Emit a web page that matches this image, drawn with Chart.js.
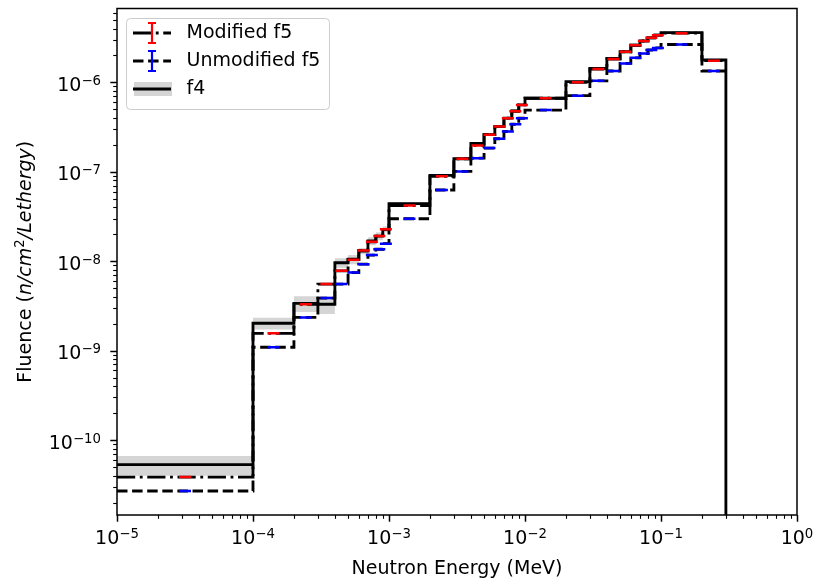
<!DOCTYPE html>
<html>
<head>
<meta charset="utf-8">
<script src="https://cdn.jsdelivr.net/npm/chart.js@4.4.0/dist/chart.umd.min.js"></script>
<style>
  html, body { margin: 0; padding: 0; background: #fff; }
  #wrap { width: 815px; height: 582px; }
</style>
</head>
<body>
<div id="wrap"><canvas id="myChart" width="815" height="582"></canvas></div>
<script>
// bin edges (MeV)
const edges = [1e-5, 1e-4, 2e-4, 3e-4, 4e-4, 5e-4, 6e-4, 7e-4, 8e-4, 9e-4,
    1e-3, 2e-3, 3e-3, 4e-3, 5e-3, 6e-3, 7e-3, 8e-3, 9e-3,
    1e-2, 2e-2, 3e-2, 4e-2, 5e-2, 6e-2, 7e-2, 8e-2, 9e-2,
    1e-1, 2e-1, 3e-1];

// fluence per bin (n/cm2/lethargy)
const f4 = [5.3e-11, 2.02e-9, 3.37e-9, 3.3e-9, 9.6e-9, 1.05e-8, 1.30e-8, 1.68e-8, 1.91e-8, 2.27e-8,
    4.4e-8, 9.1e-8, 1.40e-7, 2.07e-7, 2.6e-7, 3.2e-7, 3.98e-7, 4.8e-7, 5.6e-7,
    6.64e-7, 1.02e-6, 1.43e-6, 1.85e-6, 2.2e-6, 2.6e-6, 2.9e-6, 3.15e-6, 3.37e-6,
    3.6e-6, 1.78e-6];
// relative error of f4 (gray band)
const f4Err = [0.25, 0.15, 0.2, 0.22, 0.12, 0.12, 0.08, 0.1, 0.1, 0.08,
    0.04, 0.03, 0.03, 0.03, 0.03, 0.03, 0.03, 0.03, 0.03,
    0.03, 0.03, 0.03, 0.03, 0.03, 0.03, 0.03, 0.03, 0.03,
    0.03, 0.03];
const modF5 = [3.85e-11, 1.56e-9, 3.3e-9, 5.55e-9, 7.8e-9, 1.04e-8, 1.32e-8, 1.65e-8, 1.91e-8, 2.27e-8,
    4.2e-8, 8.9e-8, 1.40e-7, 1.97e-7, 2.6e-7, 3.2e-7, 3.98e-7, 4.75e-7, 5.6e-7,
    6.64e-7, 1.0e-6, 1.41e-6, 1.82e-6, 2.2e-6, 2.6e-6, 2.9e-6, 3.15e-6, 3.37e-6,
    3.55e-6, 1.75e-6];
const unmodF5 = [2.69e-11, 1.09e-9, 2.35e-9, 3.87e-9, 5.55e-9, 7.46e-9, 9.27e-9, 1.17e-8, 1.36e-8, 1.57e-8,
    2.98e-8, 6.26e-8, 1.01e-7, 1.42e-7, 1.84e-7, 2.34e-7, 2.82e-7, 3.4e-7, 3.97e-7,
    4.9e-7, 7.1e-7, 1.04e-6, 1.34e-6, 1.63e-6, 1.88e-6, 2.1e-6, 2.3e-6, 2.43e-6,
    2.65e-6, 1.34e-6];

const xTicks = [1e-5, 1e-4, 1e-3, 1e-2, 1e-1, 1];
const xTickExp = ['\u22125', '\u22124', '\u22123', '\u22122', '\u22121', '0'];
const yTicks = [1e-10, 1e-9, 1e-8, 1e-7, 1e-6];
const yTickExp = ['\u221210', '\u22129', '\u22128', '\u22127', '\u22126'];

const FONT = '"DejaVu Sans"';
const LW = 2.85;

// steps-post: valeur i de edges[i] a edges[i+1]
function stepData(vals, drop) {
    const n = vals.length;
    const pts = vals.map((v, i) => ({ x: edges[i], y: v }));
    pts.push({ x: edges[n], y: vals[n - 1] });
    if (drop) pts.push({ x: edges[n], y: 1e-14 });
    return pts;
}
const centers = f4.map((_, i) => Math.sqrt(edges[i] * edges[i + 1]));
const marks = vals => vals.map((v, i) => ({ x: centers[i], y: v }));

function powLabel(ctx, exp, px, py, align) {
    ctx.font = '19px ' + FONT;
    const wb = ctx.measureText('10').width;
    ctx.font = '13.3px ' + FONT;
    const we = ctx.measureText(exp).width;
    const x0 = align === 'center' ? px - (wb + we) / 2 : px - (wb + we);
    ctx.textAlign = 'left';
    ctx.textBaseline = 'alphabetic';
    ctx.font = '19px ' + FONT;
    ctx.fillText('10', x0, py);
    ctx.font = '13.3px ' + FONT;
    ctx.fillText(exp, x0 + wb, py - 6);
}

const decor = {
    id: 'decor',
    afterDraw(chart) {
        const { ctx, chartArea: a, scales: { x, y } } = chart;
        ctx.save();
        ctx.fillStyle = '#000';
        ctx.strokeStyle = '#000';

        // ticks (majeurs + mineurs)
        const tick = (x1, y1, x2, y2, w) => {
            ctx.lineWidth = w;
            ctx.beginPath(); ctx.moveTo(x1, y1); ctx.lineTo(x2, y2); ctx.stroke();
        };
        for (let d = -5; d <= 0; d++) {
            for (let m = 1; m <= 9; m++) {
                const v = m * Math.pow(10, d);
                if (v > x.max * 1.0001) break;
                const px = Math.round(x.getPixelForValue(v)) + 0.5;
                const major = m === 1;
                tick(px, a.bottom, px, a.bottom + (major ? 6.7 : 3.8), major ? 1.5 : 1.1);
            }
        }
        for (let d = -11; d <= -6; d++) {
            for (let m = 1; m <= 9; m++) {
                const v = m * Math.pow(10, d);
                if (v < y.min || v > y.max) continue;
                const py = Math.round(y.getPixelForValue(v)) + 0.5;
                const major = m === 1;
                tick(a.left, py, a.left - (major ? 6.7 : 3.8), py, major ? 1.5 : 1.1);
            }
        }

        // cadre
        ctx.lineWidth = 1.5;
        ctx.strokeRect(a.left, a.top, a.right - a.left, a.bottom - a.top);

        // labels des ticks
        xTicks.forEach((v, i) => powLabel(ctx, xTickExp[i], x.getPixelForValue(v), a.bottom + 29, 'center'));
        yTicks.forEach((v, i) => powLabel(ctx, yTickExp[i], a.left - 16, y.getPixelForValue(v) + 8.6, 'right'));

        // titre axe y (mathtext)
        const seg = [
            ['Fluence (', '19px ' + FONT, 0],
            ['n/cm', 'italic 19px ' + FONT, 0],
            ['2', '13.3px ' + FONT, -7],
            ['/Lethergy', 'italic 19px ' + FONT, 0],
            [')', '19px ' + FONT, 0]
        ];
        let tw = 0;
        seg.forEach(s => { ctx.font = s[1]; tw += ctx.measureText(s[0]).width; });
        ctx.save();
        ctx.translate(31, (a.top + a.bottom) / 2);
        ctx.rotate(-Math.PI / 2);
        ctx.textAlign = 'left';
        ctx.textBaseline = 'alphabetic';
        let cx = -tw / 2;
        seg.forEach(s => {
            ctx.font = s[1];
            ctx.fillText(s[0], cx, s[2]);
            cx += ctx.measureText(s[0]).width;
        });
        ctx.restore();

        // legende
        ctx.fillStyle = 'rgba(255,255,255,0.8)';
        ctx.strokeStyle = '#cccccc';
        ctx.lineWidth = 1;
        ctx.beginPath();
        ctx.roundRect(126.5, 18.5, 203, 91, 4);
        ctx.fill(); ctx.stroke();

        const rows = [
            { label: 'Modified f5', dash: [18.2, 4.6, 2.85, 4.6], bar: 'red', yy: 33 },
            { label: 'Unmodified f5', dash: [10.5, 4.6], bar: 'blue', yy: 61 },
            { label: 'f4', dash: [], bar: null, yy: 89 }
        ];
        rows.forEach(r => {
            if (!r.bar) {
                ctx.fillStyle = 'rgba(128,128,128,0.33)';
                ctx.fillRect(134, r.yy - 7, 38, 14);
            }
            ctx.strokeStyle = '#000';
            ctx.lineWidth = LW;
            ctx.setLineDash(r.dash);
            ctx.beginPath(); ctx.moveTo(133, r.yy); ctx.lineTo(171, r.yy); ctx.stroke();
            ctx.setLineDash([]);
            if (r.bar) {
                ctx.strokeStyle = r.bar;
                ctx.lineWidth = 2.2;
                ctx.beginPath();
                ctx.moveTo(152, r.yy - 10); ctx.lineTo(152, r.yy + 10);
                ctx.moveTo(148, r.yy - 10); ctx.lineTo(156, r.yy - 10);
                ctx.moveTo(148, r.yy + 10); ctx.lineTo(156, r.yy + 10);
                ctx.stroke();
            }
            ctx.fillStyle = '#000';
            ctx.font = '19px ' + FONT;
            ctx.textAlign = 'left';
            ctx.textBaseline = 'middle';
            ctx.fillText(r.label, 186.5, r.yy);
        });
        ctx.restore();
    }
};

const band = (sign) => stepData(f4.map((v, i) => v * (1 + sign * f4Err[i])));

new Chart(document.getElementById('myChart'), {
    type: 'line',
    data: {
        datasets: [
            { label: 'mod err', data: marks(modF5), showLine: false, pointStyle: 'line',
              pointRadius: 6, pointBorderWidth: 2.5, borderColor: 'red', backgroundColor: 'red' },
            { label: 'unmod err', data: marks(unmodF5), showLine: false, pointStyle: 'line',
              pointRadius: 6, pointBorderWidth: 2.5, borderColor: 'blue', backgroundColor: 'blue' },
            { label: 'Modified f5', data: stepData(modF5), stepped: 'before', borderColor: '#000',
              borderWidth: LW, borderDash: [18.2, 4.6, 2.85, 4.6], pointRadius: 0, fill: false },
            { label: 'Unmodified f5', data: stepData(unmodF5), stepped: 'before', borderColor: '#000',
              borderWidth: LW, borderDash: [10.5, 4.6], pointRadius: 0, fill: false },
            { label: 'f4', data: stepData(f4, true), stepped: 'before', borderColor: '#000',
              borderWidth: LW, pointRadius: 0, fill: false },
            { label: 'f4 hi', data: band(1), stepped: 'before', borderColor: 'transparent',
              borderWidth: 0.01, pointRadius: 0, fill: false },
            { label: 'f4 lo', data: band(-1), stepped: 'before', borderColor: 'transparent',
              borderWidth: 0.01, pointRadius: 0, fill: '-1', backgroundColor: 'rgba(128,128,128,0.33)' }
        ]
    },
    options: {
        responsive: false,
        animation: false,
        devicePixelRatio: 1,
        layout: { padding: { left: 0, right: 18, top: 7, bottom: 0 } },
        plugins: { legend: { display: false }, tooltip: { enabled: false } },
        scales: {
            x: {
                type: 'logarithmic', min: 1e-5, max: 1,
                afterBuildTicks: s => { s.ticks = xTicks.map(v => ({ value: v })); },
                afterFit: s => { s.height = 67; },
                ticks: { display: false },
                grid: { display: false, drawTicks: false },
                border: { display: false },
                title: { display: true, text: 'Neutron Energy (MeV)', color: '#000',
                         font: { family: 'DejaVu Sans', size: 19 }, padding: { top: 0, bottom: 2 } }
            },
            y: {
                type: 'logarithmic', min: 1.45e-11, max: 6.7e-6,
                afterBuildTicks: s => { s.ticks = yTicks.map(v => ({ value: v })); },
                afterFit: s => { s.width = 117; },
                ticks: { display: false },
                grid: { display: false, drawTicks: false },
                border: { display: false }
            }
        }
    },
    plugins: [decor]
});
</script>
</body>
</html>
